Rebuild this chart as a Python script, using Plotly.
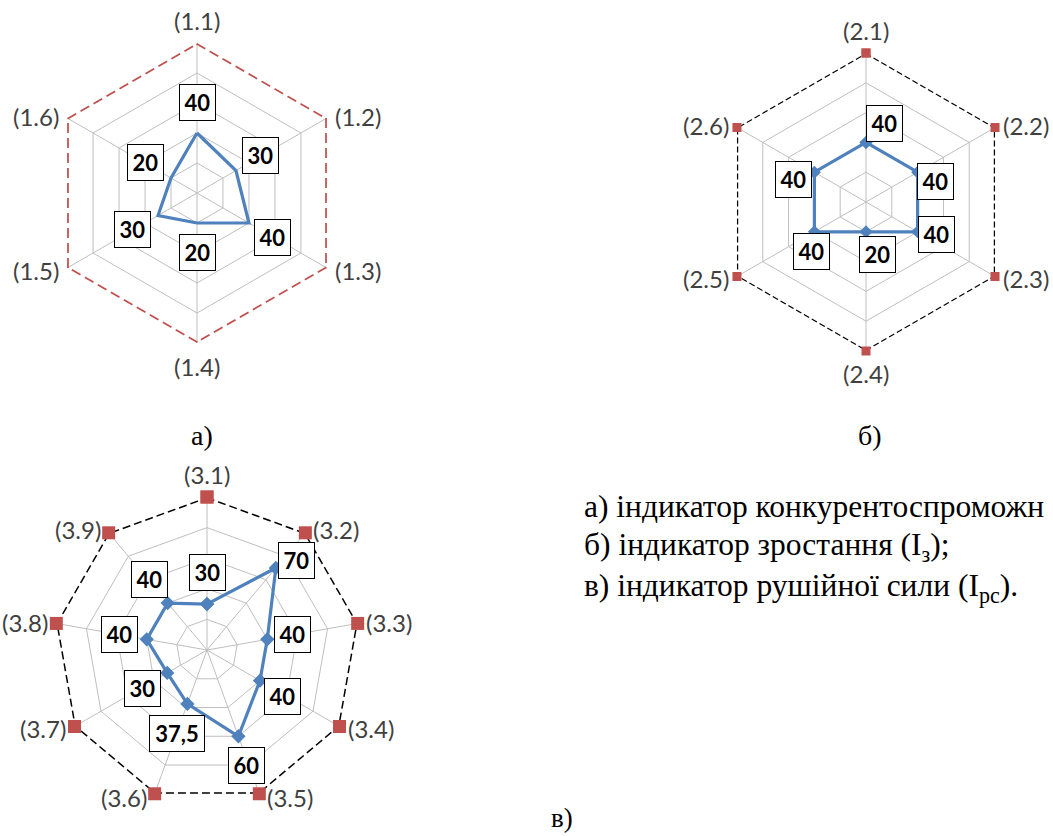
import math
import plotly.graph_objects as go

# ---------------- data ----------------
cats_a = ["(1.1)", "(1.2)", "(1.3)", "(1.4)", "(1.5)", "(1.6)"]
vals_a = [40, 30, 40, 20, 30, 20]
max_a = [100, 100, 100, 100, 100, 100]

cats_b = ["(2.1)", "(2.2)", "(2.3)", "(2.4)", "(2.5)", "(2.6)"]
vals_b = [40, 40, 40, 20, 40, 40]
max_b = [100, 100, 100, 100, 100, 100]

cats_c = ["(3.1)", "(3.2)", "(3.3)", "(3.4)", "(3.5)", "(3.6)", "(3.7)", "(3.8)", "(3.9)"]
vals_c = [30, 70, 40, 40, 60, 37.5, 30, 40, 40]
max_c = [100, 100, 100, 100, 100, 100, 100, 100, 100]

captions = ["а)", "б)", "в)"]
legend_lines = [
    "а) індикатор конкурентоспроможн",
    "б) індикатор зростання (I<sub>з</sub>);",
    "в) індикатор рушійної сили (I<sub>рс</sub>).",
]

# ---------------- layout / style ----------------
W, H = 1053, 836
geo = {
    "a": dict(cx=197, cy=193, R=150),
    "b": dict(cx=866, cy=202, R=149),
    "c": dict(cx=207, cy=650, R=153),
}
off_a = [(0, -30), (25, -15), (24, 14), (0, 29), (-26, 14), (-26, -16)]
off_b = [(18, -19), (18, 9), (19, 3), (11, 23), (-3, 20), (-21, 7)]
off_c = [(0, -32), (21, -7), (25, -5), (22, 16), (8, 29), (-10, 30), (-25, 16), (-27, -5), (-18, -24)]

BLUE = "#4F81BD"
RED = "#C0504D"
GRID = "#BFBFBF"
SANS = "Lato, Carlito, Calibri, sans-serif"
SERIF = "Liberation Serif"
TICK_SIZE = 24


def domain(g):
    return dict(
        x=[(g["cx"] - g["R"]) / W, (g["cx"] + g["R"]) / W],
        y=[1 - (g["cy"] + g["R"]) / H, 1 - (g["cy"] - g["R"]) / H],
    )


def polar(g):
    return dict(
        domain=domain(g),
        bgcolor="white",
        gridshape="linear",
        radialaxis=dict(range=[0, 100], dtick=20, showticklabels=False, ticks="",
                        showline=False, gridcolor=GRID, gridwidth=1, layer="below traces"),
        angularaxis=dict(rotation=90, direction="clockwise", showline=False, ticks="",
                         showticklabels=False, gridcolor=GRID, gridwidth=1, layer="below traces"),
    )


def closed(v):
    return list(v) + [v[0]]


fig = go.Figure()

fig.add_trace(go.Scatterpolar(r=closed(max_a), theta=closed(cats_a), mode="lines",
                              line=dict(color=RED, width=3.5, dash="10px,5px"), subplot="polar",
                              showlegend=False, hoverinfo="skip"))
fig.add_trace(go.Scatterpolar(r=closed(vals_a), theta=closed(cats_a), mode="lines",
                              line=dict(color=BLUE, width=3.2), subplot="polar", showlegend=False))

fig.add_trace(go.Scatterpolar(r=closed(max_b), theta=closed(cats_b), mode="lines+markers",
                              line=dict(color="black", width=2.5, dash="6px,3px"),
                              marker=dict(symbol="square", size=9, color=RED),
                              subplot="polar2", showlegend=False, hoverinfo="skip"))
fig.add_trace(go.Scatterpolar(r=closed(vals_b), theta=closed(cats_b), mode="lines+markers",
                              line=dict(color=BLUE, width=3.2),
                              marker=dict(symbol="diamond", size=10, color=BLUE),
                              subplot="polar2", showlegend=False))

fig.add_trace(go.Scatterpolar(r=closed(max_c), theta=closed(cats_c), mode="lines+markers",
                              line=dict(color="black", width=3, dash="8px,4px"),
                              marker=dict(symbol="square", size=13, color=RED),
                              subplot="polar3", showlegend=False, hoverinfo="skip"))
fig.add_trace(go.Scatterpolar(r=closed(vals_c), theta=closed(cats_c), mode="lines+markers",
                              line=dict(color=BLUE, width=3.2),
                              marker=dict(symbol="diamond", size=11, color=BLUE),
                              subplot="polar3", showlegend=False))

annotations = []


def fmt(v):
    return f"{v:g}".replace(".", ",")


def to_px(g, i, n, v):
    th = 2 * math.pi * i / n
    rp = v / 100 * g["R"]
    return g["cx"] + rp * math.sin(th), g["cy"] - rp * math.cos(th), th


def add_labels(vals, g, offs):
    n = len(vals)
    for i, v in enumerate(vals):
        px, py, _ = to_px(g, i, n, v)
        txt = fmt(v)
        annotations.append(dict(
            x=px / W, y=1 - py / H, xref="paper", yref="paper",
            xanchor="center", yanchor="middle",
            xshift=offs[i][0], yshift=-offs[i][1],
            text=f"<b>{txt}</b>", showarrow=False,
            font=dict(family=SANS, size=22, color="black"),
            bgcolor="white", bordercolor="black", borderwidth=1, borderpad=1,
            width=33 if len(txt) <= 2 else 52, height=33,
        ))


def add_ticks(cats, maxv, g):
    n = len(cats)
    for i, (c, m) in enumerate(zip(cats, maxv)):
        px, py, th = to_px(g, i, n, m)
        s, co = math.sin(th), math.cos(th)
        if abs(s) < 0.1:
            xa, xs, ys = "center", 0, co * 23
        else:
            xa = "left" if s > 0 else "right"
            xs, ys = (6 if s > 0 else -6), co * 4
        annotations.append(dict(
            x=px / W, y=1 - py / H, xref="paper", yref="paper",
            xanchor=xa, yanchor="middle", xshift=xs, yshift=ys,
            text=c, showarrow=False,
            font=dict(family=SANS, size=TICK_SIZE, color="#404040"),
        ))


add_ticks(cats_a, max_a, geo["a"])
add_ticks(cats_b, max_b, geo["b"])
add_ticks(cats_c, max_c, geo["c"])
add_labels(vals_a, geo["a"], off_a)
add_labels(vals_b, geo["b"], off_b)
add_labels(vals_c, geo["c"], off_c)

cap_pos = [(202, 435), (870, 435)]
for t, (x, y) in zip(captions[:2], cap_pos):
    annotations.append(dict(x=x / W, y=1 - y / H, xref="paper", yref="paper",
                            xanchor="center", yanchor="middle", text=t, showarrow=False,
                            font=dict(family=SERIF, size=28, color="black")))
annotations.append(dict(x=562 / W, y=0.001, xref="paper", yref="paper",
                        xanchor="center", yanchor="bottom", text=captions[2], showarrow=False,
                        font=dict(family=SERIF, size=27, color="black")))

leg_y = [506, 547, 588]
for t, y in zip(legend_lines, leg_y):
    annotations.append(dict(x=582 / W, y=1 - y / H, xref="paper", yref="paper",
                            xanchor="left", yanchor="middle", text=t, showarrow=False,
                            font=dict(family=SERIF, size=31.5, color="black")))

fig.update_layout(
    width=W, height=H, margin=dict(l=0, r=0, t=0, b=0),
    paper_bgcolor="white", plot_bgcolor="white",
    polar=polar(geo["a"]), polar2=polar(geo["b"]), polar3=polar(geo["c"]),
    annotations=annotations, showlegend=False,
)

fig.write_html("out.html", config={"displayModeBar": False},
               post_script="document.body.style.margin='0';document.body.style.overflow='hidden';")
